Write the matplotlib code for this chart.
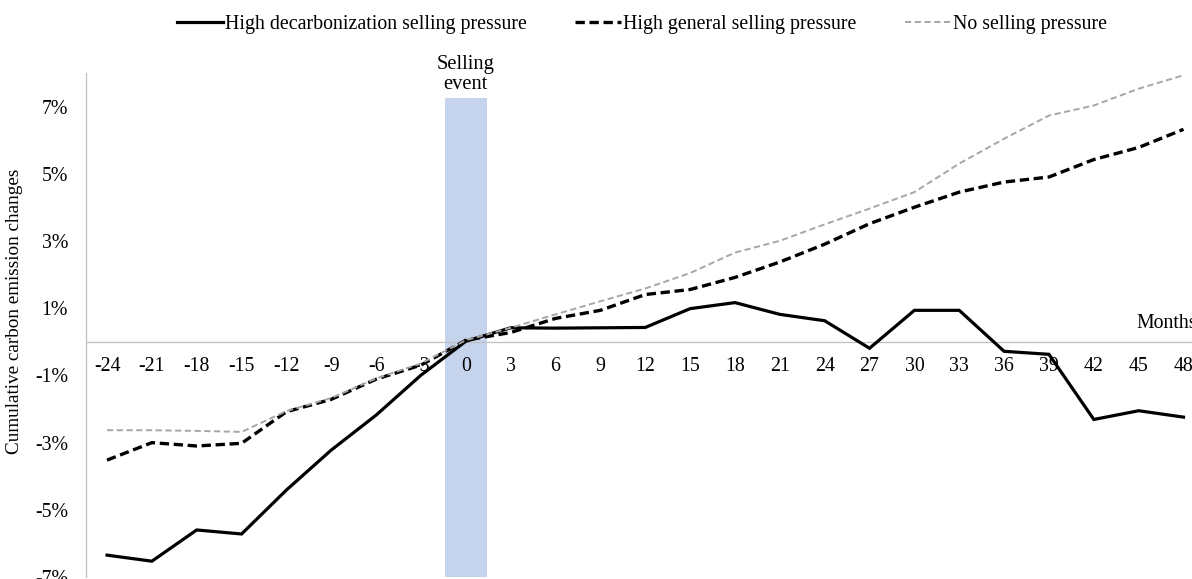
import numpy as np
import matplotlib
matplotlib.use('Agg')
import matplotlib.pyplot as plt

plt.rcParams['font.family'] = ['Liberation Serif', 'DejaVu Serif']

months = [-24, -21, -18, -15, -12, -9, -6, -3, 0, 3, 6, 9, 12, 15, 18, 21, 24,
          27, 30, 33, 36, 39, 42, 45, 48]
# cumulative changes in %
high_decarb = [-6.35, -6.53, -5.60, -5.72, -4.41, -3.22, -2.18, -0.99, 0.02,
               0.42, 0.41, 0.42, 0.43, 0.99, 1.17, 0.82, 0.63, -0.19, 0.94,
               0.94, -0.28, -0.37, -2.31, -2.05, -2.24]
high_general = [-3.52, -3.00, -3.10, -3.02, -2.08, -1.71, -1.11, -0.69, 0.05,
                0.28, 0.70, 0.94, 1.41, 1.56, 1.92, 2.38, 2.91, 3.52, 4.01,
                4.46, 4.76, 4.91, 5.43, 5.79, 6.33]
no_pressure = [-2.63, -2.63, -2.65, -2.68, -2.06, -1.67, -1.09, -0.64, 0.05,
               0.42, 0.82, 1.21, 1.59, 2.05, 2.66, 3.01, 3.50, 3.97, 4.46,
               5.31, 6.05, 6.74, 7.04, 7.54, 7.94]
event_month = 0
event_top = 7.25
y_ticks = [-7, -5, -3, -1, 1, 3, 5, 7]

fs = 14.3
x = np.arange(len(months))

fig = plt.figure(figsize=(11.92, 5.79), dpi=100)
ax = fig.add_axes([0.0721, 0.0035, 0.9396, 0.870])

# selling event band
ev = months.index(event_month)
ax.bar(ev, event_top + 7, bottom=-7, width=0.94, color='#C5D3ED', zorder=1)

ax.plot(x, high_decarb, color='black', lw=2.3, solid_joinstyle='miter',
        label='High decarbonization selling pressure', zorder=3)
ax.plot(x, high_general, color='black', lw=2.4, dashes=(2.8, 1.4),
        label='High general selling pressure', zorder=3)
ax.plot(x, no_pressure, color='#A6A6A6', lw=1.4, dashes=(3.2, 1.8),
        label='No selling pressure', zorder=3)

ax.set_xlim(-0.47, 24.5)
ax.set_ylim(-7, 8)

ax.spines['top'].set_visible(False)
ax.spines['right'].set_visible(False)
ax.spines['bottom'].set_position(('data', 0))
ax.spines['bottom'].set_color('#BFBFBF')
ax.spines['left'].set_color('#BFBFBF')
ax.spines['bottom'].set_linewidth(0.9)
ax.spines['left'].set_linewidth(0.9)

ax.set_xticks(x)
ax.set_xticklabels([str(m) for m in months])
ax.set_yticks(y_ticks)
ax.set_yticklabels([f'{t}%' for t in y_ticks])
ax.tick_params(axis='both', length=0, labelsize=fs)
ax.tick_params(axis='x', pad=11)
ax.tick_params(axis='y', pad=13)

ax.set_ylabel('Cumulative carbon emission changes', fontsize=13.8)
ax.yaxis.set_label_coords(-0.056, 0.528)

ax.text(22.95, 0.55, 'Months', fontsize=fs, ha='left', va='center', clip_on=False)
ax.text(ev, 7.97, 'Selling\nevent', fontsize=14.8, ha='center', va='center',
        linespacing=1.08, clip_on=False)

fig.legend(loc='upper center', bbox_to_anchor=(0.5386, 1.005), ncol=3, frameon=False,
           fontsize=fs, handlelength=2.3, handletextpad=0.1, columnspacing=2.45)

fig.savefig('out.png', dpi=100)
